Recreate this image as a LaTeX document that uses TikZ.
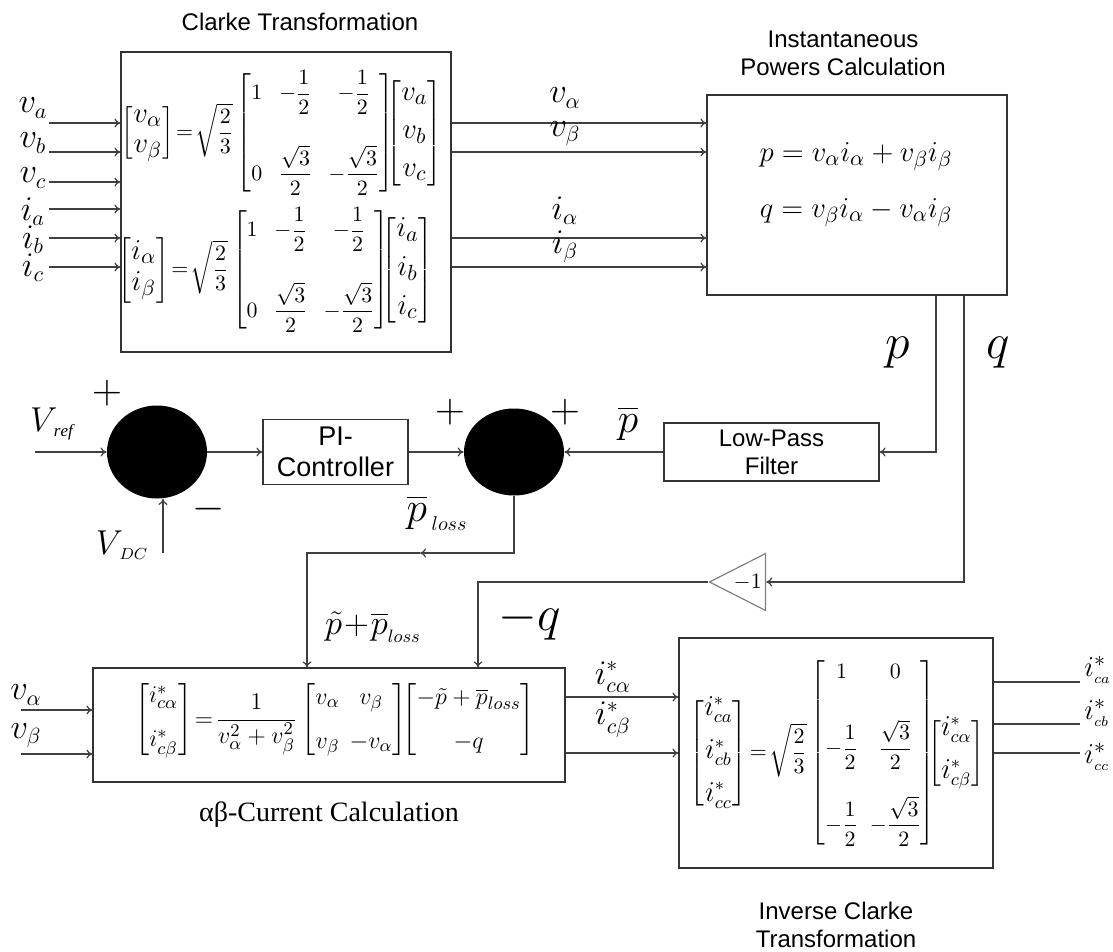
\documentclass[tikz,border=0pt]{standalone}
\usepackage{amsmath}
\usepackage{fontspec}
\setmainfont{Liberation Serif}
\setsansfont{Liberation Sans}
\usetikzlibrary{
  arrows.meta,
  shapes.geometric,
  positioning,
  calc
}
\setlength{\arraycolsep}{2.5pt}
\newcommand{\bigent}[1]{\mbox{\fontsize{15}{17}\selectfont$#1$}}
\newcommand{\mident}[1]{\mbox{\fontsize{13.5}{15}\selectfont$#1$}}
\tikzset{
  blk/.style={draw=black!80, line width=0.6pt, inner sep=0pt, align=center},
  sumpt/.style={ellipse, fill=black, minimum width=50pt, inner sep=0pt},
  gainblk/.style={
    isosceles triangle, shape border rotate=180, isosceles triangle stretches,
    draw=black!50, line width=0.6pt, minimum width=28.5pt, minimum height=28pt,
    inner sep=0pt, font=\fontsize{11}{13}\selectfont
  },
  ttl/.style={font=\sffamily\fontsize{12}{14}\selectfont, align=center},
  eqn/.style={inner sep=0pt, font=\fontsize{11}{13}\selectfont},
  eqnbig/.style={inner sep=0pt, font=\fontsize{15}{18}\selectfont},
  lbl/.style={inner sep=0pt, font=\fontsize{16}{18}\selectfont},
  biglbl/.style={inner sep=0pt, font=\fontsize{28}{30}\selectfont},
  sgn/.style={inner sep=0pt, font=\fontsize{20}{22}\selectfont},
  sig/.style={-{To[length=3pt,width=4.5pt]}, black!75, line width=0.6pt},
  wire/.style={black!75, line width=0.6pt}
}

\begin{document}
\begin{tikzpicture}[x=0.5pt, y=-0.5pt]
  \useasboundingbox (0,0) rectangle (1113,952);

  % Clarke transformation
  \node[blk, minimum width=165pt, minimum height=150pt] (clarke) at (286,202) {};
  \node[ttl, above=7pt of clarke, xshift=7pt] (clarketitle) {Clarke Transformation};
  \node[eqn] (clarkev) at (282,133) {\setlength{\arraycolsep}{4pt}$\begin{bmatrix} \bigent{v_\alpha}\\[2pt] \bigent{v_\beta}\end{bmatrix}
    \!=\!\sqrt{\dfrac{2}{3}}\begin{bmatrix}1 & -\dfrac{1}{2} & -\dfrac{1}{2}\\[19pt]
    0 & \dfrac{\sqrt{3}}{2} & -\dfrac{\sqrt{3}}{2}\end{bmatrix}\!\!\!
    \begin{bmatrix} \bigent{v_a}\\[6pt] \bigent{v_b}\\[6pt] \bigent{v_c}\end{bmatrix}$};
  \node[eqn] (clarkei) at (276,270) {\setlength{\arraycolsep}{4pt}$\begin{bmatrix} \bigent{i_\alpha}\\[2pt] \bigent{i_\beta}\end{bmatrix}
    \!=\!\sqrt{\dfrac{2}{3}}\begin{bmatrix}1 & -\dfrac{1}{2} & -\dfrac{1}{2}\\[19pt]
    0 & \dfrac{\sqrt{3}}{2} & -\dfrac{\sqrt{3}}{2}\end{bmatrix}\!\!\!
    \begin{bmatrix} \bigent{i_a}\\[6pt] \bigent{i_b}\\[6pt] \bigent{i_c}\end{bmatrix}$};

  % instantaneous powers
  \node[blk, minimum width=150pt, minimum height=100pt] (power) at (857,195) {};
  \node[ttl] (powertitle) at (843,53) {Instantaneous\\Powers Calculation};
  \node[eqnbig] (peq) at (856,157) {$p=v_\alpha i_\alpha+v_\beta i_\beta$};
  \node[eqnbig] (qeq) at (856,213) {$q=v_\beta i_\alpha-v_\alpha i_\beta$};

  % dc-link loop
  \node[sumpt, minimum height=46.5pt] (sum1) at (157,452) {};
  \node[blk, font=\sffamily\fontsize{13.5}{15.5}\selectfont,
    minimum width=72.5pt, minimum height=32.5pt] (pi) at (335.5,452) {PI-\\Controller};
  \node[sumpt, minimum height=43.5pt] (sum2) at (514,452) {};
  \node[blk, ttl, minimum width=107.5pt, minimum height=29pt] (lpf) at (771.5,452) {Low-Pass\\Filter};
  \node[gainblk, anchor=apex] (gain) at (708,582) {$-1$};

  % alpha-beta current calculation
  \node[blk, minimum width=236pt, minimum height=57pt] (abc) at (329,725) {};
  \node[font=\fontsize{14}{16}\selectfont, below=6pt of abc] (abctitle) {αβ-Current Calculation};
  \node[eqn, font=\fontsize{13}{15}\selectfont] (abceq) at (335,720) {$\begin{bmatrix} i^{*}_{c\alpha}\\[7pt] i^{*}_{c\beta}\end{bmatrix}
    \!=\!\dfrac{1}{v_\alpha^{2}+v_\beta^{2}}\begin{bmatrix} v_\alpha & v_\beta\\[7pt] v_\beta & -v_\alpha\end{bmatrix}\!\!
    \begin{bmatrix} -\tilde{p}+\overline{p}_{loss}\\[7pt] -q\end{bmatrix}$};

  % inverse clarke
  \node[blk, minimum width=157pt, minimum height=115pt] (inv) at (836,753) {};
  \node[ttl, below=13pt of inv] (invtitle) {Inverse Clarke\\Transformation};
  \node[eqn, font=\fontsize{11}{13}\selectfont] (inveq) at (837,753) {\setlength{\arraycolsep}{3pt}$\begin{bmatrix} \mident{i^{*}_{ca}}\\[8pt] \mident{i^{*}_{cb}}\\[8pt] \mident{i^{*}_{cc}}\end{bmatrix}
    \!=\!\sqrt{\dfrac{2}{3}}\begin{bmatrix}1 & 0\\[17pt] -\dfrac{1}{2} & \dfrac{\sqrt{3}}{2}\\[17pt]
    -\dfrac{1}{2} & -\dfrac{\sqrt{3}}{2}\end{bmatrix}\!\!\!
    \begin{bmatrix} \mident{i^{*}_{c\alpha}}\\[8pt] \mident{i^{*}_{c\beta}}\end{bmatrix}$};

  % inputs
  \foreach \y [count=\k] in {123,152,182,209,238,267}
    \coordinate (in\k) at (49,\y);
  \foreach \k in {1,...,6}
    \draw[sig] (in\k) -- (in\k -| clarke.west);
  \foreach \t/\y [count=\k] in {v_a/108,v_b/143,v_c/178,i_a/212,i_b/240,i_c/268}
    \node[lbl] (inlbl\k) at (33,\y) {$\t$};

  % clarke -> powers
  \foreach \k in {1,2,5,6}
    \draw[sig] (in\k -| clarke.east) -- (in\k -| power.west);
  \node[lbl] (va) at (565,98) {$v_\alpha$};
  \node[lbl] (vb) at (565,134) {$v_\beta$};
  \node[lbl] (ia) at (565,211) {$i_\alpha$};
  \node[lbl] (ib) at (565,247) {$i_\beta$};

  % p and q
  \draw[sig] ($(power.south)+(79,0)$) |- (lpf.east);
  \draw[sig] ($(power.south)+(107,0)$) |- (gain.lower side);
  \node[biglbl] (plbl) at (898,353) {$p$};
  \node[biglbl] (qlbl) at (998,353) {$q$};

  % loop
  \coordinate (vref) at (35,452);
  \coordinate (vdc) at (163,553);
  \draw[sig] (vref) -- (sum1.west);
  \draw[sig] (vdc) -- (vdc |- sum1.south);
  \draw[sig] (sum1.east) -- (pi.west);
  \draw[sig] (pi.east) -- (sum2.west);
  \draw[sig] (lpf.west) -- (sum2.east);
  \node[lbl, font=\fontsize{17}{19}\selectfont] (vreflbl) at (52,424) {$V_{\,\scriptscriptstyle\mathit{ref}}$};
  \node[lbl, font=\fontsize{17}{19}\selectfont] (vdclbl) at (122,545) {$V_{\,\scriptscriptstyle DC}$};
  \node[sgn] (plus1) at (107,393) {$+$};
  \node[sgn] (minus1) at (209,509) {$-$};
  \node[sgn] (plus2) at (450,412) {$+$};
  \node[sgn] (plus3) at (565,412) {$+$};
  \node[biglbl, font=\fontsize{22}{24}\selectfont] (pbar) at (628,423) {$\overline{p}$};
  \node[biglbl, font=\fontsize{20}{22}\selectfont] (plosslbl) at (437,513) {$\overline{p}_{\,\scriptscriptstyle loss}$};

  % into alpha-beta block
  \coordinate (lossmid) at (420,553);
  \draw[sig] (sum2.south) |- (lossmid);
  \draw[sig] (lossmid) -| ($(abc.north)+(-22,0)$);
  \draw[sig] (gain.apex) -| ($(abc.north)+(149,0)$);
  \node[biglbl, font=\fontsize{18}{20}\selectfont] (pin) at (373,627) {$\tilde{p}\!+\!\overline{p}_{\scriptscriptstyle loss}$};
  \node[biglbl] (mqlbl) at (530,621) {$-q$};

  \coordinate (abcin1) at (21,710);
  \coordinate (abcin2) at (21,754);
  \draw[sig] (abcin1) -- (abcin1 -| abc.west);
  \draw[sig] (abcin2) -- (abcin2 -| abc.west);
  \node[lbl] (va2) at (26,695) {$v_\alpha$};
  \node[lbl] (vb2) at (26,736) {$v_\beta$};

  % alpha-beta -> inverse clarke
  \coordinate (cia) at ($(abc.east)+(0,-28)$);
  \coordinate (cib) at ($(abc.east)+(0,28)$);
  \draw[sig] (cia) -- (cia -| inv.west);
  \draw[sig] (cib) -- (cib -| inv.west);
  \node[lbl] (icalbl) at (613,677) {$i^{*}_{c\alpha}$};
  \node[lbl] (icblbl) at (613,720) {$i^{*}_{c\beta}$};

  % outputs
  \coordinate (oa) at (1080,682);
  \coordinate (ob) at (1080,724);
  \coordinate (oc) at (1080,753);
  \foreach \o in {oa,ob,oc}
    \draw[wire] (\o -| inv.east) -- (\o);
  \node[lbl, font=\fontsize{15}{17}\selectfont, anchor=west] (oalbl) at (1084,670) {$i^{*}_{\scriptscriptstyle ca}$};
  \node[lbl, font=\fontsize{15}{17}\selectfont, anchor=west] (oblbl) at (1084,713) {$i^{*}_{\scriptscriptstyle cb}$};
  \node[lbl, font=\fontsize{15}{17}\selectfont, anchor=west] (oclbl) at (1084,757) {$i^{*}_{\scriptscriptstyle cc}$};
\end{tikzpicture}
\end{document}
